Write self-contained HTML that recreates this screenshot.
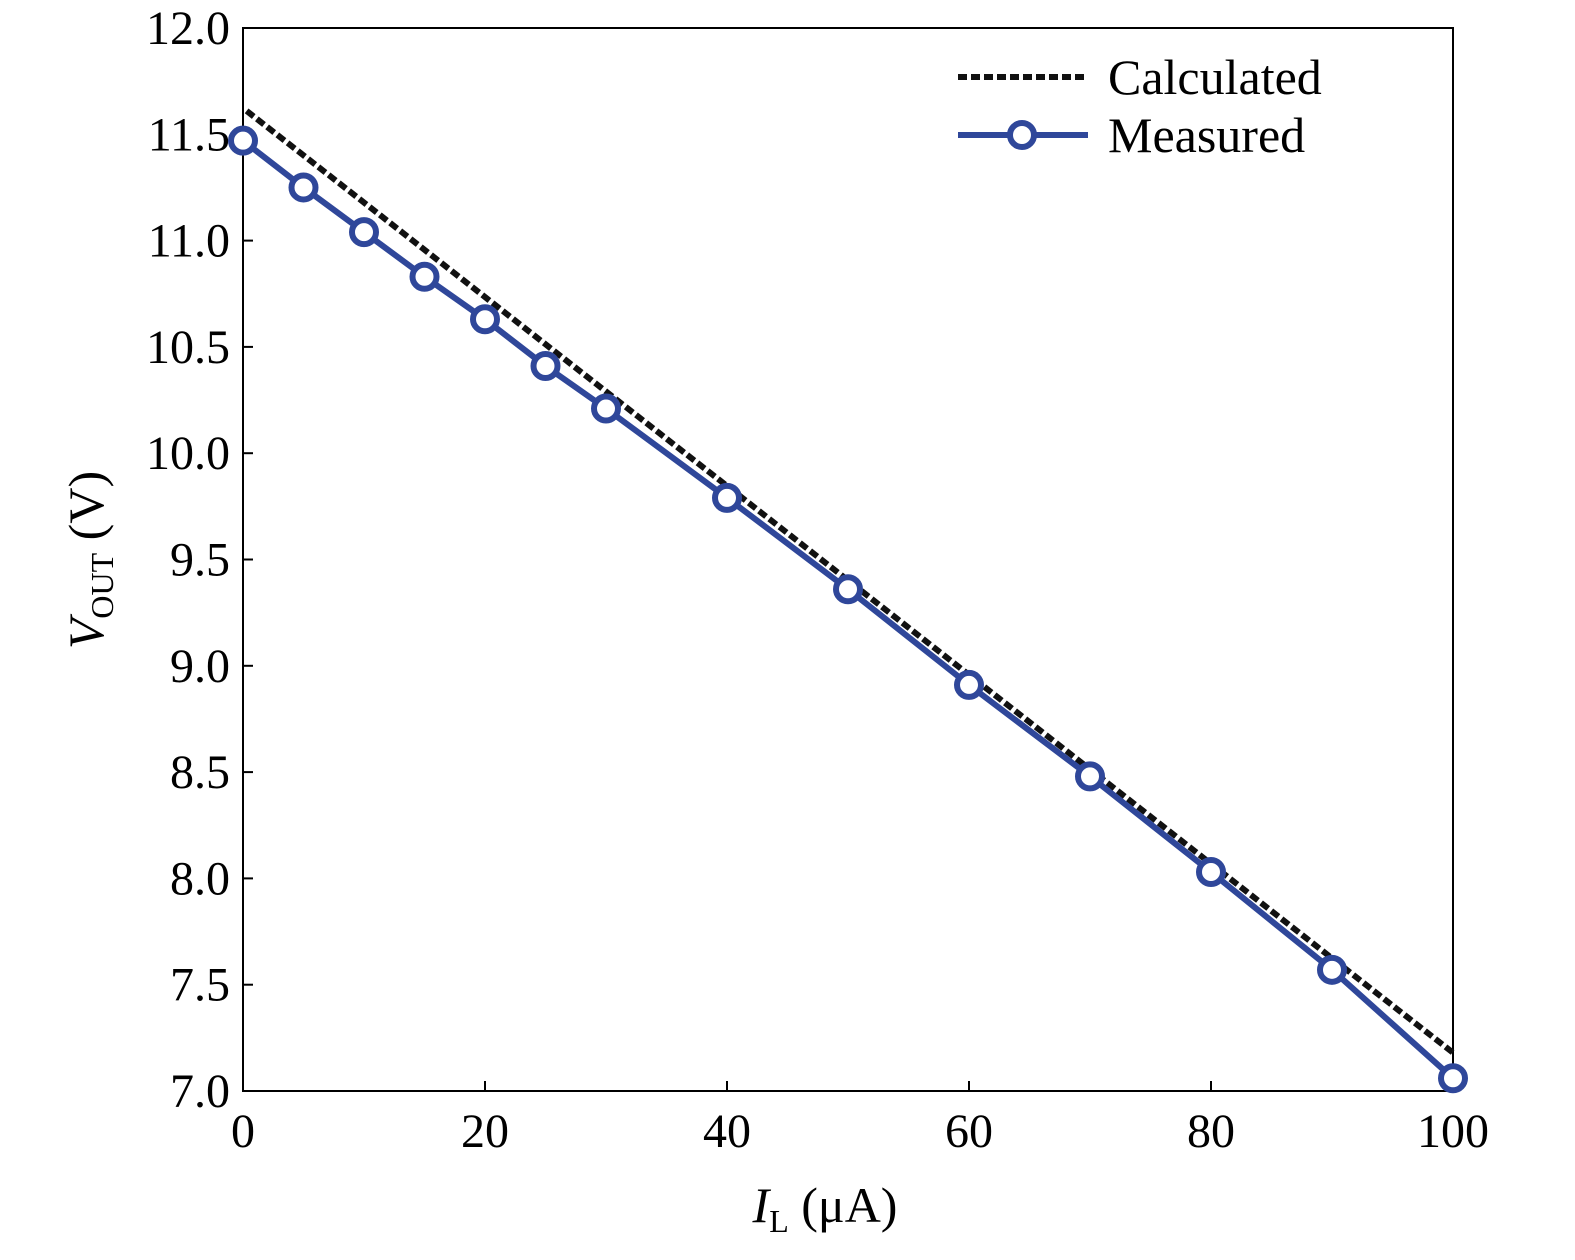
<!DOCTYPE html>
<html><head><meta charset="utf-8"><style>
html,body{margin:0;padding:0;background:#fff;}
svg{display:block;font-family:"Liberation Serif",serif;}
</style></head><body>
<svg id="chart" width="1575" height="1260">
</svg>
<script>
const xTicks=[0,20,40,60,80,100];
const yTicks=[7.0,7.5,8.0,8.5,9.0,9.5,10.0,10.5,11.0,11.5,12.0];
const measuredX=[0,5,10,15,20,25,30,40,50,60,70,80,90,100];
const measuredY=[11.47,11.25,11.04,10.83,10.63,10.41,10.21,9.79,9.36,8.91,8.48,8.03,7.57,7.06];
const calcX=[0.3,100];
const calcY=[11.61,7.18];

const L=243,R=1453,T=28,B=1091;
const xs=v=>L+(v-0)/(100-0)*(R-L);
const ys=v=>B-(v-7)/(12-7)*(B-T);
const svg=document.getElementById('chart');
const NS='http://www.w3.org/2000/svg';
function mk(tag,attrs,parent){const e=document.createElementNS(NS,tag);for(const k in attrs)e.setAttribute(k,attrs[k]);(parent||svg).appendChild(e);return e;}

const frame=mk('rect',{x:L,y:T,width:R-L,height:B-T,fill:'none',stroke:'#000','stroke-width':2});



xTicks.forEach(v=>{
  const t=mk('line',{x1:xs(v),x2:xs(v),y1:B,y2:B-10,stroke:'#000','stroke-width':2});
  
  
  const lb=mk('text',{x:xs(v),y:B+56,'text-anchor':'middle','font-size':48});
  lb.textContent=String(v);
  
  
});
yTicks.forEach(v=>{
  const t=mk('line',{x1:L,x2:L+10,y1:ys(v),y2:ys(v),stroke:'#000','stroke-width':2});
  
  
  const lb=mk('text',{x:L-13,y:ys(v)+16,'text-anchor':'end','font-size':48});
  lb.textContent=v.toFixed(1);
  
  
});

const cp=calcX.map((x,i)=>xs(x)+','+ys(calcY[i])).join(' ');
const cl=mk('polyline',{points:cp,fill:'none',stroke:'#111','stroke-width':6,'stroke-dasharray':'9,4'});



const mp=measuredX.map((x,i)=>xs(x)+','+ys(measuredY[i])).join(' ');
const ml=mk('polyline',{points:mp,fill:'none',stroke:'#2f479a','stroke-width':6});


measuredX.forEach((x,i)=>{
  const c=mk('circle',{cx:xs(x),cy:ys(measuredY[i]),r:12,fill:'#fff',stroke:'#2f479a','stroke-width':6});
  
  
});

const lg=mk('g',{});


mk('line',{x1:958,x2:1088,y1:77,y2:77,stroke:'#111','stroke-width':6,'stroke-dasharray':'9,4'},lg);
const t1=mk('text',{x:1108,y:94,'font-size':50},lg);t1.textContent='Calculated';
mk('line',{x1:958,x2:1088,y1:135,y2:135,stroke:'#2f479a','stroke-width':6},lg);
mk('circle',{cx:1022,cy:135,r:12,fill:'#fff',stroke:'#2f479a','stroke-width':6},lg);
const t2=mk('text',{x:1108,y:152,'font-size':50},lg);t2.textContent='Measured';

const xt=mk('text',{x:825,y:1222,'text-anchor':'middle','font-size':50});
xt.innerHTML='<tspan font-style="italic">I</tspan><tspan font-size="32" dy="10">L</tspan><tspan dy="-10"> (μA)</tspan>';


const yt=mk('text',{x:0,y:0,'text-anchor':'middle','font-size':50,transform:'translate(103,560) rotate(-90)'});
yt.innerHTML='<tspan font-style="italic">V</tspan><tspan font-size="32" dy="10">OUT</tspan><tspan dy="-10"> (V)</tspan>';


</script>
</body></html>
